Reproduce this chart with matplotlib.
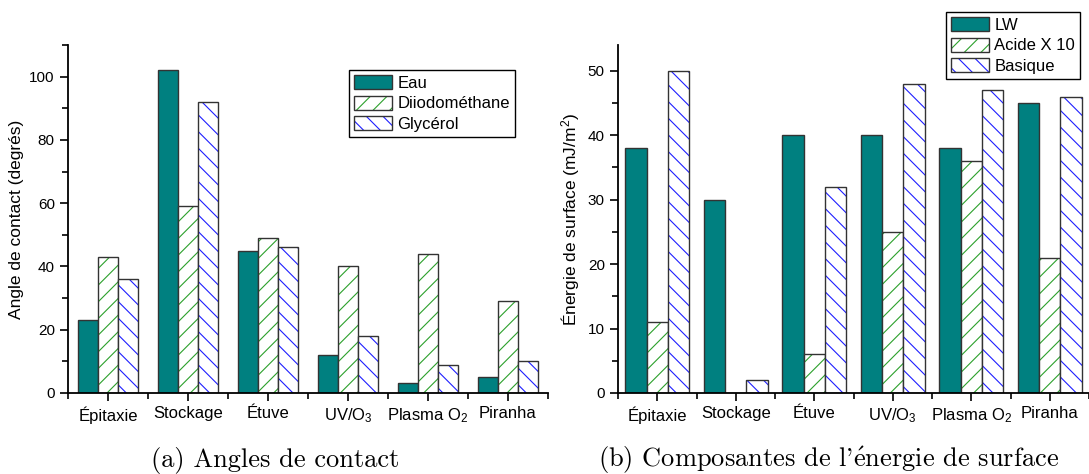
import matplotlib.pyplot as plt
import numpy as np
from matplotlib.patches import Patch
from matplotlib.ticker import MultipleLocator, FixedLocator

plt.rcParams['font.family'] = ['Liberation Sans', 'DejaVu Sans']
plt.rcParams['mathtext.fontset'] = 'custom'
plt.rcParams['mathtext.rm'] = 'Liberation Sans'
plt.rcParams['mathtext.it'] = 'Liberation Sans:italic'
plt.rcParams['hatch.linewidth'] = 0.8

categories = ['Épitaxie', 'Stockage', 'Étuve', 'UV/O$_3$', 'Plasma O$_2$', 'Piranha']

# (a) angles de contact
eau = [23, 102, 45, 12, 3.3, 5]
diiodo = [43, 59, 49, 40, 44, 29]
glycerol = [36, 92, 46, 18, 9, 10]

# (b) composantes de l'energie de surface
lw = [38, 30, 40, 40, 38, 45]
acide = [11, 0, 6, 25, 36, 21]
basique = [50, 2, 32, 48, 47, 46]

teal = '#008080'
green = '#2ca02c'
blue = '#1f1fff'
edge = '#333333'

fig = plt.figure(figsize=(10.89, 4.74), dpi=100)
W, H = 1089, 474


def draw_panel(ax, series, width, ymax, major, minor):
    x = np.arange(1, len(categories) + 1)
    offs = [-width, 0, width]
    handles = []
    for i, vals in enumerate(series):
        pos = x + offs[i]
        if i == 0:
            ax.bar(pos, vals, width, color=teal, edgecolor=edge, linewidth=1)
            h = Patch(facecolor=teal, edgecolor=edge, linewidth=1)
        else:
            hc = green if i == 1 else blue
            hp = '//' if i == 1 else '\\\\'
            ax.bar(pos, vals, width, color='white', edgecolor=hc, hatch=hp, linewidth=0)
            ax.bar(pos, vals, width, color='none', edgecolor=edge, linewidth=1)
            h = (Patch(facecolor='white', edgecolor=hc, hatch=hp, linewidth=0),
                 Patch(facecolor='none', edgecolor=edge, linewidth=1))
        handles.append(h)
    ax.set_xlim(0.5, len(categories) + 0.5)
    ax.set_ylim(0, ymax)
    ax.spines['top'].set_visible(False)
    ax.spines['right'].set_visible(False)
    ax.spines['left'].set_linewidth(1.3)
    ax.spines['bottom'].set_linewidth(1.3)
    ax.set_xticks(x)
    ax.set_xticklabels(categories)
    ax.xaxis.set_minor_locator(FixedLocator(np.arange(0.5, len(categories) + 1, 1)))
    ax.yaxis.set_major_locator(MultipleLocator(major))
    ax.yaxis.set_minor_locator(MultipleLocator(minor))
    ax.tick_params(axis='both', which='major', direction='out', length=6, width=1.2,
                   labelsize=11)
    ax.tick_params(axis='x', which='major', labelsize=12)
    ax.tick_params(axis='both', which='minor', direction='out', length=4, width=1.2)
    return handles


def add_legend(ax, handles, labels, x0, y0):
    ax.legend(handles, labels, loc='upper left',
              bbox_to_anchor=(x0 / W, 1 - y0 / H), bbox_transform=fig.transFigure,
              fontsize=12, frameon=True, fancybox=False, edgecolor='black',
              framealpha=1, borderaxespad=0, handlelength=2.3, handleheight=0.9,
              labelspacing=0.3, borderpad=0.3, handletextpad=0.3)


ax1 = fig.add_axes([68 / W, 1 - 393 / H, (548 - 68) / W, (393 - 45) / H])
h1 = draw_panel(ax1, [eau, diiodo, glycerol], 0.25, 110, 20, 10)
ax1.set_ylabel('Angle de contact (degrés)', fontsize=12.5)
add_legend(ax1, h1, ['Eau', 'Diiodométhane', 'Glycérol'], 349, 70)

ax2 = fig.add_axes([618 / W, 1 - 393 / H, (1089 - 618) / W, (393 - 45) / H])
h2 = draw_panel(ax2, [lw, acide, basique], 0.27, 54, 10, 5)
ax2.set_ylabel('Énergie de surface (mJ/m$^2$)', fontsize=12.5)
add_legend(ax2, h2, ['LW', 'Acide X 10', 'Basique'], 946, 12)

cap = ['cmr10', 'DejaVu Serif']
fig.text(275 / W, 1 - 460 / H, '(a) Angles de contact', family=cap, fontsize=19,
         ha='center', va='center')
fig.text(829 / W, 1 - 460 / H, "(b) Composantes de l'$\\mathrm{\\acute{e}}$nergie de surface",
         family=cap, math_fontfamily='cm', fontsize=19, ha='center', va='center')

fig.savefig('out.png', dpi=100)
